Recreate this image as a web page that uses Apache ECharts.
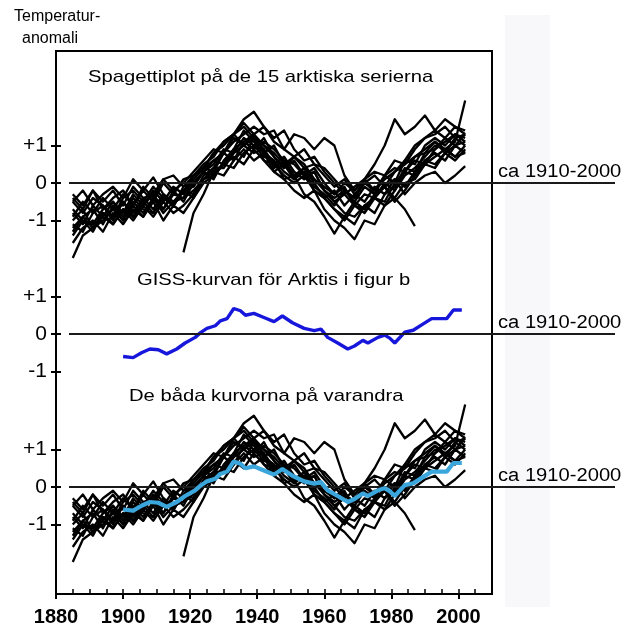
<!DOCTYPE html>
<html>
<head>
<meta charset="utf-8">
<script src="https://cdn.jsdelivr.net/npm/echarts@6/dist/echarts.min.js"></script>
<style>
  html, body { margin: 0; padding: 0; background: #ffffff; }
  #chart { width: 635px; height: 627px; }
</style>
</head>
<body>
<div id="chart"></div>
<script>
// Years shared by the fifteen Arctic station series (3-year steps)
const stationYears = [1885, 1888, 1891, 1894, 1897, 1900, 1903, 1906, 1909, 1912,
  1915, 1918, 1921, 1924, 1927, 1930, 1933, 1936, 1939, 1942,
  1945, 1948, 1951, 1954, 1957, 1960, 1963, 1966, 1969, 1972,
  1975, 1978, 1981, 1984, 1987, 1990, 1993, 1996, 1999, 2002];

// Temperature anomalies (°C) of the fifteen Arctic series
const series01 = [-2.0, -1.4, -1.2, -0.9, -1.1, -0.7, -0.9, -0.5, -0.8, -0.4, -0.6, -0.2, -0.3, 0.2, 0.4, 0.8, 0.6, 1.1, 0.9, 1.2, 0.7, 0.4, 0.6, 0.2, 0.3, -0.2, -0.5, -0.3, -0.6, -0.3, -0.4, 0.0, -0.2, 0.3, 0.2, 0.6, 0.8, 0.6, 1.0, 1.1];
const series02 = [null, null, null, null, null, null, null, null, null, null, null, -1.85, -0.8, -0.3, 0.3, 0.5, 0.9, 1.4, 1.1, 0.8, 1.0, 0.5, 0.2, 0.4, 0.0, -0.4, -0.7, -1.0, -0.6, -0.8, -0.4, -0.5, 0.0, 0.3, 0.6, 0.5, 0.9, 1.2, 1.0, 1.3];
const series03 = [-0.5, -0.2, -0.6, -0.3, -0.1, -0.4, 0.1, -0.2, 0.15, -0.3, -0.5, -0.2, 0.1, 0.4, 0.8, 1.0, 1.3, 1.6, 1.3, 1.5, 1.1, 0.9, 1.3, 1.2, 0.9, 1.2, 1.0, 0.2, -0.2, 0.1, -0.2, 0.2, 0.0, 0.6, 1.0, 1.2, 1.4, 1.2, 1.5, 1.4];
const series04 = [-1.2, -0.9, -0.7, -1.1, -0.6, -1.0, -0.5, -0.8, -0.4, -0.7, -0.3, -0.4, 0.1, 0.4, 0.3, 0.8, 1.2, 1.0, 0.8, 0.9, 0.4, 0.6, 0.2, 0.3, -0.1, -0.3, -0.6, -0.2, -0.4, 0.1, 0.5, 1.0, 1.7, 1.3, 1.5, 1.8, 1.4, 1.7, 1.5, 1.3];
const series05 = [-0.3, -0.6, -0.2, -0.7, -0.4, -0.2, -0.6, -0.1, -0.4, 0.1, -0.2, 0.0, 0.3, 0.6, 0.9, 0.8, 1.3, 1.5, 1.2, 1.0, 0.8, 0.5, 0.7, 0.4, 0.5, 0.2, -0.1, 0.1, -0.3, 0.0, 0.2, -0.1, -0.4, -0.7, -1.15, null, null, null, null, null];
const series06 = [-1.0, -0.7, -1.2, -0.8, -0.9, -0.5, -0.8, -0.4, -0.7, -0.3, -0.6, -0.2, -0.1, 0.3, 0.1, 0.6, 0.9, 0.7, 1.2, 0.9, 0.5, 0.7, 0.3, 0.1, 0.3, -0.2, -0.4, -0.2, -0.5, -0.1, -0.3, 0.2, 0.4, 0.3, 0.7, 0.8, 1.1, 0.9, 1.1, 2.2];
const series07 = [-1.4, -1.0, -1.3, -0.8, -1.1, -0.7, -1.0, -0.6, -0.9, -0.5, -0.8, -0.6, -0.3, 0.1, 0.3, 0.2, 0.6, 0.9, 0.6, 0.8, 0.3, 0.1, -0.2, -0.4, -0.2, -0.7, -1.0, -1.2, -1.5, -1.0, -1.1, -0.6, -0.4, 0.0, 0.1, 0.5, 0.4, 0.8, 0.6, 0.9];
const series08 = [-0.8, -1.1, -0.6, -0.9, -0.5, -0.8, -0.3, -0.6, -0.2, -0.5, -0.1, -0.3, 0.2, 0.4, 0.8, 1.1, 1.3, 1.0, 1.3, 0.8, 0.6, 0.1, 0.2, -0.3, -0.5, -0.9, -1.35, -0.9, -1.1, -0.6, -0.8, -0.3, -0.1, 0.4, 0.3, 0.8, 0.9, 1.1, 1.3, 1.2];
const series09 = [-0.5, -0.8, -0.4, -0.6, -0.9, -0.4, -0.2, -0.5, -0.1, -0.4, -0.6, -0.2, -0.4, 0.1, 0.2, 0.5, 0.7, 0.5, 0.9, 0.6, 0.3, 0.5, 0.1, 0.4, 0.1, -0.1, -0.3, 0.0, -0.2, 0.1, -0.3, -0.1, 0.1, -0.3, 0.0, 0.2, 0.3, 0.0, 0.2, 0.45];
const series10 = [-0.9, -0.5, -0.8, -0.4, -0.7, -0.3, -0.6, -0.2, -0.5, 0.0, -0.3, 0.1, 0.2, 0.5, 0.7, 1.1, 1.3, 1.7, 1.9, 1.5, 1.2, 1.4, 0.9, 0.6, 0.7, 0.3, 0.0, -0.3, -0.1, 0.1, 0.3, 0.2, 0.6, 0.5, 0.9, 1.2, 1.3, 1.5, 1.2, 1.3];
const series11 = [-1.6, -1.2, -1.0, -1.3, -0.8, -1.1, -0.7, -0.9, -0.5, -1.0, -0.6, -0.8, -0.4, 0.0, 0.2, 0.5, 0.4, 0.8, 1.0, 0.7, 0.6, 0.3, 0.1, 0.3, -0.2, -0.4, -0.2, -0.6, -0.3, -0.5, -0.1, -0.3, 0.1, -0.1, 0.3, 0.6, 0.5, 0.8, 1.0, 0.8];
const series12 = [-0.7, -1.0, -1.1, -0.7, -0.5, -0.9, -0.4, -0.7, -0.8, -0.3, -0.6, -0.1, 0.0, 0.3, 0.5, 0.9, 0.8, 1.2, 1.0, 1.1, 0.9, 0.6, 0.5, 0.2, 0.4, 0.0, -0.3, -0.1, -0.6, -0.7, -0.3, -0.1, -0.5, -0.2, 0.2, 0.5, 0.7, 0.9, 0.7, 1.0];
const series13 = [-1.1, -1.3, -0.8, -0.6, -1.0, -0.5, -0.9, -0.6, -0.3, -0.7, -0.2, -0.5, 0.0, 0.3, 0.6, 0.8, 1.1, 1.3, 1.5, 1.3, 1.4, 0.9, 0.7, 0.9, 0.5, 0.4, 0.1, -0.2, -0.4, 0.0, -0.2, 0.1, 0.3, 0.6, 0.5, 1.0, 1.2, 1.0, 1.3, 1.1];
const series14 = [-0.4, -0.7, -0.2, -0.5, -0.2, -0.6, -0.1, -0.4, -0.3, 0.1, 0.2, -0.1, 0.2, 0.4, 0.6, 0.5, 0.9, 1.1, 1.3, 1.0, 0.7, 0.4, 0.7, 0.5, 0.1, -0.2, -0.5, -0.8, -0.9, -0.6, -0.4, -0.6, -0.2, 0.2, 0.4, 0.7, 1.0, 0.9, 0.7, 0.8];
const series15 = [-1.3, -0.9, -1.2, -1.0, -0.7, -1.0, -0.6, -0.9, -0.4, -0.8, -0.5, -0.4, -0.2, 0.1, 0.4, 0.4, 0.8, 1.0, 1.2, 0.6, 0.5, 0.2, 0.0, 0.2, -0.2, -0.4, -0.7, -0.9, -0.5, -0.7, -0.4, -0.1, 0.3, 0.5, 0.7, 0.9, 1.1, 0.8, 1.2, 1.0];

const arcticSeries = [series01, series02, series03, series04, series05, series06, series07, series08,
  series09, series10, series11, series12, series13, series14, series15];

// GISS Arctic curve
const gissYears = [1900, 1903, 1905.5, 1908, 1910.5, 1913, 1916, 1918.5, 1921.5, 1923,
  1925, 1927.5, 1929, 1931, 1933, 1935, 1936.5, 1939, 1942, 1945,
  1947.5, 1950.5, 1954, 1957, 1959, 1961, 1964, 1967, 1969, 1971.5,
  1973, 1976, 1978, 1979.5, 1981, 1984, 1986.5, 1989.5, 1992, 1996.5,
  1998.5, 2001];
const gissValues = [-0.6, -0.63, -0.5, -0.4, -0.42, -0.53, -0.4, -0.24, -0.09, 0.03,
  0.15, 0.22, 0.35, 0.41, 0.68, 0.62, 0.5, 0.55, 0.44, 0.33,
  0.48, 0.3, 0.15, 0.09, 0.13, -0.09, -0.24, -0.4, -0.32, -0.17,
  -0.24, -0.09, -0.03, -0.11, -0.24, 0.05, 0.1, 0.27, 0.41, 0.41,
  0.64, 0.64];

// Axis ticks and texts
const yearTicks = [1880, 1900, 1920, 1940, 1960, 1980, 2000];
const anomalyTicks = [-1, 0, 1];
const panelTitles = ['Spagettiplot på de 15 arktiska serierna', 'GISS-kurvan för Arktis i figur b', 'De båda kurvorna på varandra'];
const periodLabel = 'ca 1910-2000';
const yAxisTitle = ['Temperatur-', 'anomali'];

// ---- layout ----
const FONT = '"Liberation Sans", Arial, Helvetica, sans-serif';
const frameLeft = 56, frameRight = 492, frameTop = 51, frameBottom = 594;
const yearMin = 1880, yearMax = 2010;
const pxPerYear = (frameRight - frameLeft) / (yearMax - yearMin);
const refLineStartX = 69, refLineEndX = 615;
const panelYearMax = yearMin + (refLineEndX - frameLeft) / pxPerYear;
const refLineStartYear = yearMin + (refLineStartX - frameLeft) / pxPerYear;
const pxPerUnit = 37.5;
const panelZeroY = [183, 334, 487];
const panelRange = 3;
const titlePos = [[88, 77], [137, 280], [129, 396]];
const textStretch = 1.19;

function pairs(xs, ys) {
  const out = [];
  for (let i = 0; i < xs.length; i++) if (ys[i] !== null) out.push([xs[i], ys[i]]);
  return out;
}

const chart = echarts.init(document.getElementById('chart'), null, { renderer: 'canvas' });

const grids = [{ left: frameLeft, top: frameTop, width: frameRight - frameLeft, height: frameBottom - frameTop,
  show: true, borderColor: '#000', borderWidth: 2, backgroundColor: 'transparent' }];
panelZeroY.forEach(z => grids.push({
  left: frameLeft, top: z - panelRange * pxPerUnit,
  width: refLineEndX - frameLeft, height: 2 * panelRange * pxPerUnit
}));

const xAxes = [
  { gridIndex: 0, type: 'value', position: 'bottom', min: yearMin, max: yearMax, interval: 20,
    axisLine: { show: true, lineStyle: { color: '#000', width: 2 } },
    axisTick: { show: true, length: 5, customValues: yearTicks, lineStyle: { color: '#000', width: 2 } },
    axisLabel: { show: true, customValues: yearTicks, margin: 13, color: '#000', fontSize: 20,
      fontWeight: 'bold', fontFamily: FONT, formatter: v => (v > 2000 ? '' : String(v)) },
    splitLine: { show: false } },
  { gridIndex: 0, type: 'value', position: 'bottom', min: yearMin, max: yearMax, interval: 5,
    axisLine: { show: false },
    axisTick: { show: true, inside: true, length: 5, lineStyle: { color: '#000', width: 1.5 } },
    axisLabel: { show: false }, splitLine: { show: false } }
];
const yAxes = [{ gridIndex: 0, type: 'value', min: 0, max: 1, show: false }];
panelZeroY.forEach((z, p) => {
  xAxes.push({ gridIndex: p + 1, type: 'value', min: yearMin, max: panelYearMax, show: false });
  yAxes.push({ gridIndex: p + 1, type: 'value', position: 'left', min: -panelRange, max: panelRange, interval: 1,
    axisLine: { show: false },
    axisTick: { show: true, length: 5, customValues: anomalyTicks, lineStyle: { color: '#000', width: 2 } },
    axisLabel: { show: true, customValues: anomalyTicks, margin: 9, color: '#000', fontSize: 21, fontFamily: FONT,
      formatter: v => (v > 0 ? '+' + v : String(v)) },
    splitLine: { show: false } });
  yAxes.push({ gridIndex: p + 1, type: 'value', position: 'left', min: -panelRange, max: panelRange, interval: 1,
    axisLine: { show: false },
    axisTick: { show: true, inside: true, length: 5, customValues: anomalyTicks, lineStyle: { color: '#000', width: 2 } },
    axisLabel: { show: false }, splitLine: { show: false } });
});

const refLine = {
  silent: true, symbol: 'none', animation: false,
  label: { show: false },
  lineStyle: { color: '#1a1a1a', width: 2, type: 'solid' },
  data: [[{ coord: [refLineStartYear, 0] }, { coord: [panelYearMax, 0] }]]
};

const series = [];
function addSpaghetti(panel) {
  arcticSeries.forEach((vals, i) => {
    const s = {
      type: 'line', xAxisIndex: panel + 2, yAxisIndex: 1 + panel * 2,
      data: pairs(stationYears, vals), symbol: 'none', silent: true, animation: false, z: 3,
      lineStyle: { color: '#000', width: 2.3, join: 'round' }
    };
    if (i === 0) s.markLine = refLine;
    series.push(s);
  });
}
addSpaghetti(0);
series.push({
  type: 'line', xAxisIndex: 3, yAxisIndex: 3, data: pairs(gissYears, gissValues),
  symbol: 'none', silent: true, animation: false, z: 4,
  lineStyle: { color: '#1717dc', width: 3.4 }, markLine: refLine
});
addSpaghetti(2);
series.push({
  type: 'line', xAxisIndex: 4, yAxisIndex: 5, data: pairs(gissYears, gissValues),
  symbol: 'none', silent: true, animation: false, z: 5,
  lineStyle: { color: '#3aa6dc', width: 4.2 }
});

const graphics = [
  { type: 'rect', left: 505, top: 15, z: -1, shape: { width: 45, height: 592 }, style: { fill: '#f8f8fa' } },
  { type: 'text', left: 14, top: 9, style: { text: yAxisTitle[0], font: '16px ' + FONT, fill: '#000' } },
  { type: 'text', left: 22, top: 31, style: { text: yAxisTitle[1], font: '16px ' + FONT, fill: '#000' } }
];
panelTitles.forEach((t, i) => graphics.push({
  type: 'text', x: titlePos[i][0], y: titlePos[i][1], scaleX: textStretch,
  style: { text: t, font: '17px ' + FONT, fill: '#000', verticalAlign: 'middle' }
}));
panelZeroY.forEach(z => graphics.push({
  type: 'text', x: 498, y: z - 11, scaleX: 1.12,
  style: { text: periodLabel, font: '18px ' + FONT, fill: '#000', verticalAlign: 'middle' }
}));

chart.setOption({
  backgroundColor: '#ffffff',
  animation: false,
  grid: grids,
  xAxis: xAxes,
  yAxis: yAxes,
  series: series,
  graphic: graphics
});
</script>
</body>
</html>
